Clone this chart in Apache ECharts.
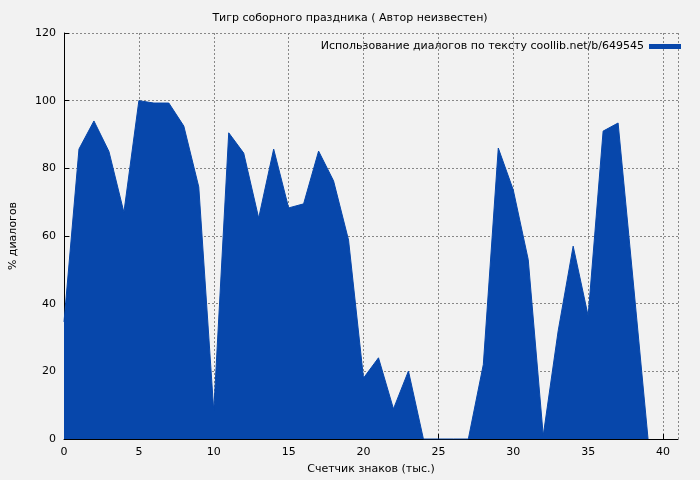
<!DOCTYPE html>
<html><head><meta charset="utf-8">
<script src="https://cdn.jsdelivr.net/npm/echarts@6/dist/echarts.min.js"></script>
<style>html,body{margin:0;background:#f2f2f2}#c{width:700px;height:480px}</style>
</head><body><div id="c"></div>
<script>
// Счетчик знаков (тыс.)
var xs = [0,1,2,3,4,5,6,7,8,9,10,11,12,13,14,15,16,17,18,19,20,21,22,23,24,25,26,27,28,29,30,31,32,33,34,35,36,37,38,39];
// % диалогов
var ys = [34.6,85.7,94,85,67,100,99.3,99.3,92.5,74.5,8.3,90.5,84.5,65.3,85.7,68.3,69.5,85.1,76.3,58.8,18,24,8.9,20.1,0,0,0,0,22,86,73.6,53,1,32,57,36.4,91,93.4,47,0];
var seriesName = 'Использование диалогов по тексту coollib.net/b/649545';

var myChart = echarts.init(document.getElementById('c'));
var font = 'DejaVu Sans';
var option = {
	backgroundColor: '#f2f2f2',
	animation: false,
	title: {
		text: 'Тигр соборного праздника ( Автор неизвестен)',
		left: 'center', top: 8,
		textStyle: {fontSize: 11, fontWeight: 'normal', color: '#000', fontFamily: font}
	},
	legend: {
		right: 14, top: 36,
		icon: 'rect', itemWidth: 32, itemHeight: 5,
		align: 'right',
		textStyle: {fontSize: 11, color: '#000', fontFamily: font},
		data: [seriesName]
	},
	grid: {left: 61, right: 22, top: 33, bottom: 41},
	xAxis: {
		type: 'value', min: 0, max: 41, interval: 5,
		name: 'Счетчик знаков (тыс.)', nameLocation: 'middle', nameGap: 25,
		nameTextStyle: {fontSize: 11, color: '#000', fontFamily: font},
		axisLine: {lineStyle: {color: '#000'}},
		axisTick: {inside: true, lineStyle: {color: '#000'}},
		axisLabel: {fontSize: 11, color: '#000', fontFamily: font, showMaxLabel: false},
		splitLine: {lineStyle: {color: '#888', type: [2, 2]}}
	},
	yAxis: {
		type: 'value', min: 0, max: 120, interval: 20,
		name: '% диалогов', nameLocation: 'middle', nameGap: 45,
		nameTextStyle: {fontSize: 11, color: '#000', fontFamily: font},
		axisLine: {show: true, lineStyle: {color: '#000'}},
		axisTick: {inside: true, lineStyle: {color: '#000'}},
		axisLabel: {fontSize: 11, color: '#000', fontFamily: font},
		splitLine: {lineStyle: {color: '#888', type: [2, 2]}}
	},
	series: [{
		name: seriesName,
		type: 'line',
		symbol: 'none',
		color: '#0747ab',
		lineStyle: {width: 1, color: '#0747ab'},
		areaStyle: {color: '#0747ab', opacity: 1},
		data: xs.map(function(x, i) { return [x, ys[i]]; })
	}]
};
myChart.setOption(option);
</script></body></html>
